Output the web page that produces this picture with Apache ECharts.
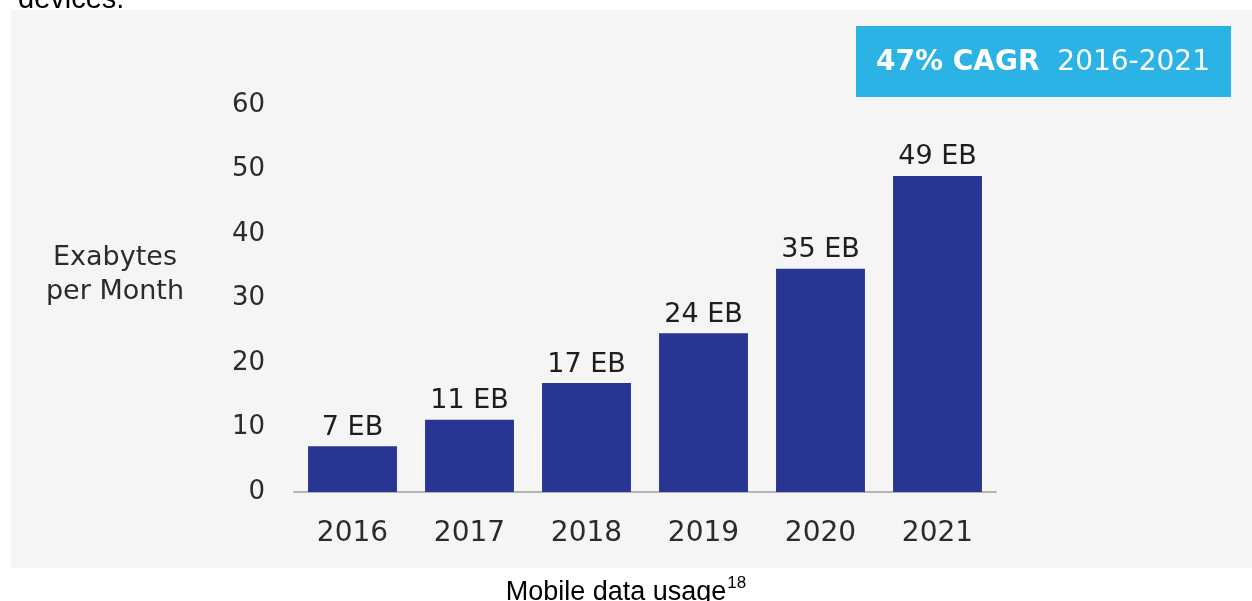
<!DOCTYPE html>
<html>
<head>
<meta charset="utf-8">
<script src="https://cdn.jsdelivr.net/npm/echarts@6/dist/echarts.min.js"></script>
<style>
  html, body { margin: 0; padding: 0; background: #ffffff; }
  #panel { position: absolute; left: 11px; top: 10px; width: 1241px; height: 558px; background: #f5f5f5; }
  #chart { position: absolute; left: 0; top: 0; width: 1252px; height: 601px; }
</style>
</head>
<body>
<div id="panel"></div>
<div id="chart"></div>
<script>
const categories = ['2016', '2017', '2018', '2019', '2020', '2021'];
const values = [7.1, 11.2, 16.9, 24.6, 34.6, 49];
const valueLabels = ['7 EB', '11 EB', '17 EB', '24 EB', '35 EB', '49 EB'];
const yTicks = [0, 10, 20, 30, 40, 50, 60];
const axisTitle = ['Exabytes', 'per Month'];
const badgeBold = '47% CAGR';
const badgeRange = '2016-2021';
const caption = 'Mobile data usage';
const captionSup = '18';
const topText = 'devices.';

const chart = echarts.init(document.getElementById('chart'), null, { renderer: 'canvas' });
const font = '"DejaVu Sans", sans-serif';
const capFont = '"Liberation Sans Narrow", "Liberation Sans", sans-serif';

chart.setOption({
  backgroundColor: 'transparent',
  animation: false,
  textStyle: { fontFamily: font },
  grid: { left: 294, right: 256, top: 105, bottom: 109, containLabel: false },
  xAxis: {
    type: 'category',
    data: categories,
    axisLine: { show: true, lineStyle: { color: '#b4b4b4', width: 2 } },
    axisTick: { show: false },
    axisLabel: { color: '#2b2b2b', fontSize: 28, margin: 28, fontFamily: font }
  },
  yAxis: {
    type: 'value',
    min: yTicks[0],
    max: yTicks[yTicks.length - 1],
    interval: yTicks[1] - yTicks[0],
    axisLine: { show: false },
    axisTick: { show: false },
    splitLine: { show: false },
    axisLabel: { color: '#2b2b2b', fontSize: 26, margin: 29, fontFamily: font }
  },
  series: [{
    type: 'bar',
    data: values,
    barCategoryGap: '24%',
    itemStyle: { color: '#283593' },
    label: {
      show: true,
      position: 'top',
      distance: 5,
      color: '#1e1e1e',
      fontSize: 27,
      fontFamily: font,
      formatter: p => valueLabels[p.dataIndex]
    }
  }],
  title: [
    {
      text: axisTitle.join('\n'),
      left: 110,
      top: 236,
      textAlign: 'center',
      textStyle: { color: '#2b2b2b', fontSize: 27, fontWeight: 'normal', lineHeight: 34, fontFamily: font }
    },
    {
      text: '{m|' + caption + '}{s|' + captionSup + '}',
      left: 'center',
      top: 570,
      textStyle: {
        fontWeight: 'normal',
        rich: {
          m: { fontSize: 27, fontWeight: 'normal', color: '#000', fontFamily: capFont, verticalAlign: 'bottom', lineHeight: 31 },
          s: { fontSize: 17, fontWeight: 'normal', color: '#000', fontFamily: capFont, verticalAlign: 'top', lineHeight: 31, padding: [0, 0, 13, 1] }
        }
      }
    },
    {
      text: topText,
      left: 13,
      top: -20,
      textStyle: { color: '#000', fontSize: 29, fontWeight: 'normal', fontFamily: capFont }
    }
  ],
  graphic: [
    {
      type: 'group',
      left: 856,
      top: 26,
      children: [
        { type: 'rect', shape: { x: 0, y: 0, width: 375, height: 71 }, style: { fill: '#2bb3e6' } },
        {
          type: 'text',
          x: 187,
          y: 37,
          style: {
            text: '{b|' + badgeBold + '}{r|  ' + badgeRange + '}',
            align: 'center',
            verticalAlign: 'middle',
            rich: {
              b: { fontSize: 28, fontWeight: 'bold', fill: '#ffffff', fontFamily: font },
              r: { fontSize: 28, fontWeight: 'normal', fill: '#ffffff', fontFamily: font }
            }
          }
        }
      ]
    }
  ]
});
</script>
</body>
</html>
